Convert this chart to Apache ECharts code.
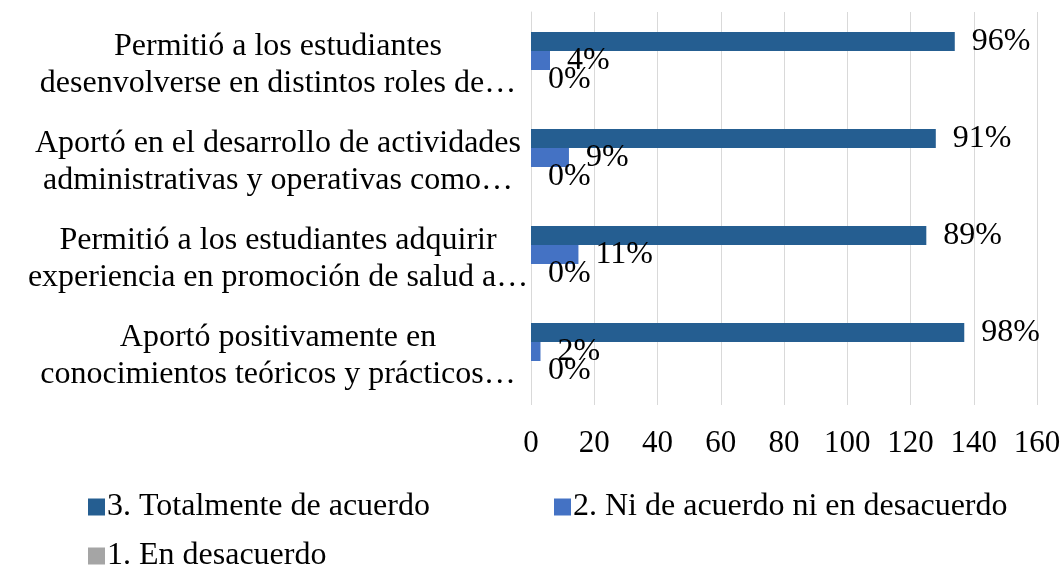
<!DOCTYPE html>
<html>
<head>
<meta charset="utf-8">
<script src="https://cdn.jsdelivr.net/npm/echarts@6/dist/echarts.min.js"></script>
<style>
  html, body { margin: 0; padding: 0; background: #fff; }
  #chart { width: 1064px; height: 566px; }
</style>
</head>
<body>
<div id="chart"></div>
<script>
// categories, top to bottom (as shown)
const categories = [
  'Permitió a los estudiantes\ndesenvolverse en distintos roles de…',
  'Aportó en el desarrollo de actividades\nadministrativas y operativas como…',
  'Permitió a los estudiantes adquirir\nexperiencia en promoción de salud a…',
  'Aportó positivamente en\nconocimientos teóricos y prácticos…'
]
const seriesNames = ['3. Totalmente de acuerdo', '2. Ni de acuerdo ni en desacuerdo', '1. En desacuerdo']
// counts (bar lengths)
const totalAgree = [134, 128, 125, 137]
const neutral = [6, 12, 15, 3]
const disagree = [0, 0, 0, 0]
// data labels shown on bars
const totalAgreePct = ['96%', '91%', '89%', '98%']
const neutralPct = ['4%', '9%', '11%', '2%']
const disagreePct = ['0%', '0%', '0%', '0%']
const colors = ['#255e91', '#4472c4', '#a5a5a5']

const font = '"Liberation Serif", "Times New Roman", serif'

const myChart = echarts.init(document.getElementById('chart'))

function makeSeries(name, values, labels, color) {
  return {
    name: name,
    type: 'bar',
    data: values,
    barWidth: 19,
    barGap: '0%',
    itemStyle: { color: color },
    label: {
      show: true,
      position: 'right',
      distance: 17,
      fontFamily: font,
      fontSize: 32,
      color: '#000',
      formatter: function (p) {
        return labels[p.dataIndex]
      }
    }
  }
}

function makeLegend(idx, left, top) {
  return {
    data: [seriesNames[idx]],
    left: left,
    top: top,
    itemWidth: 17,
    itemHeight: 17,
    itemGap: 4,
    icon: 'rect',
    textStyle: { fontFamily: font, fontSize: 32, color: '#000', padding: [0, 0, 0, -3] }
  }
}

const option = {
  animation: false,
  textStyle: { fontFamily: font },
  grid: {
    left: 531,
    right: 27,
    top: 12,
    bottom: 166
  },
  legend: [
    makeLegend(0, 83, 486),
    makeLegend(1, 549, 486),
    makeLegend(2, 83, 535)
  ],
  xAxis: {
    type: 'value',
    min: 0,
    max: 160,
    interval: 20,
    axisLine: { show: false },
    axisTick: { show: true, length: 5, lineStyle: { color: '#d9d9d9' } },
    splitLine: { show: true, lineStyle: { color: '#d9d9d9', width: 1 } },
    axisLabel: {
      margin: 28,
      fontFamily: font,
      fontSize: 31,
      color: '#000'
    }
  },
  yAxis: {
    type: 'category',
    inverse: true,
    data: categories,
    axisLine: { show: true, lineStyle: { color: '#d9d9d9', width: 1 } },
    axisTick: { show: false },
    axisLabel: {
      margin: 0,
      interval: 0,
      padding: [10, 0, 0, 0],
      formatter: function (value) {
        return value.split('\n').map(function (s) { return '{a|' + s + '}' }).join('\n')
      },
      rich: {
        a: {
          fontFamily: font,
          fontSize: 32,
          lineHeight: 37,
          color: '#000',
          width: 506,
          align: 'center'
        }
      }
    }
  },
  series: [
    makeSeries(seriesNames[0], totalAgree, totalAgreePct, colors[0]),
    makeSeries(seriesNames[1], neutral, neutralPct, colors[1]),
    makeSeries(seriesNames[2], disagree, disagreePct, colors[2])
  ]
}

myChart.setOption(option)
window.addEventListener('resize', function () {
  myChart.resize()
})
</script>
</body>
</html>
